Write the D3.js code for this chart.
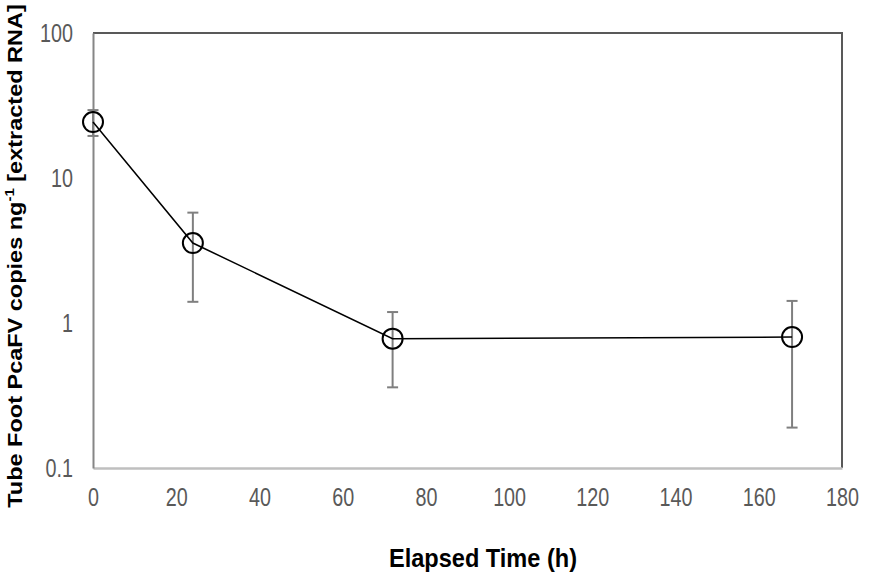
<!DOCTYPE html>
<html>
<head>
<meta charset="utf-8">
<script src="https://cdn.jsdelivr.net/npm/d3@7"></script>
<style>
  body { margin: 0; background: #fff; }
  .tick-label { font-family: "Liberation Sans", Arial, sans-serif; font-size: 25px; fill: #595959; }
</style>
</head>
<body>
<div id="chart"></div>
<script>
// data
var hours  = [0, 24, 72, 168];
var copies = [24.3, 3.56, 0.78, 0.80];
var err_hi = [29.4, 5.77, 1.19, 1.42];
var err_lo = [19.5, 1.40, 0.36, 0.19];

var x_ticks = [0, 20, 40, 60, 80, 100, 120, 140, 160, 180];
var y_ticks = [0.1, 1, 10, 100];

var chart_width  = 886;
var chart_height = 575;
var plot_left = 93, plot_right = 842, plot_top = 33, plot_bottom = 468;
var squeeze = 0.79; // reference text looks horizontally squashed

var svg = d3.select('#chart')
	.append('svg')
	.attr('width', chart_width)
	.attr('height', chart_height);

// scales
var x_scale = d3.scaleLinear()
	.domain([0, 180])
	.range([plot_left, plot_right]);

var y_scale = d3.scaleLog()
	.domain([0.1, 100])
	.range([plot_bottom, plot_top]);

// frame: top and right darker, left and bottom lighter
svg.append('line')
	.attr('x1', plot_left).attr('x2', plot_right + 1)
	.attr('y1', plot_top).attr('y2', plot_top)
	.attr('stroke', '#595959').attr('stroke-width', 2);
svg.append('line')
	.attr('x1', plot_right).attr('x2', plot_right)
	.attr('y1', plot_top).attr('y2', plot_bottom)
	.attr('stroke', '#595959').attr('stroke-width', 2);

// axes (no tick marks, just labels)
var x_axis = d3.axisBottom(x_scale)
	.tickValues(x_ticks)
	.tickSize(0)
	.tickPadding(20)
	.tickFormat(d3.format('d'));

var gx = svg.append('g')
	.attr('transform', 'translate(0,' + plot_bottom + ')')
	.call(x_axis);
gx.select('.domain').attr('stroke', '#bfbfbf').attr('stroke-width', 2.5);
gx.selectAll('text')
	.attr('class', 'tick-label')
	.attr('font-size', null).attr('font-family', null).attr('fill', null)
	.attr('transform', 'scale(' + squeeze + ',1)');

var y_axis = d3.axisLeft(y_scale)
	.tickValues(y_ticks)
	.tickSize(0)
	.tickPadding(20)
	.tickFormat(function(d){ return d < 1 ? '0.1' : String(d); });

var gy = svg.append('g')
	.attr('transform', 'translate(' + plot_left + ',0)')
	.call(y_axis);
gy.select('.domain').attr('stroke', '#868686').attr('stroke-width', 2);
gy.selectAll('text')
	.attr('class', 'tick-label')
	.attr('font-size', null).attr('font-family', null).attr('fill', null)
	.attr('x', -20 / squeeze)
	.attr('transform', 'scale(' + squeeze + ',1)');

// error bars
var eb = svg.append('g')
	.attr('stroke', '#7f7f7f')
	.attr('stroke-width', 2);

hours.forEach(function(h, i){
	var x = x_scale(h);
	eb.append('line')
		.attr('x1', x).attr('x2', x)
		.attr('y1', y_scale(err_hi[i])).attr('y2', y_scale(err_lo[i]));
	[err_hi[i], err_lo[i]].forEach(function(v){
		eb.append('line')
			.attr('x1', x - 5.5).attr('x2', x + 5.5)
			.attr('y1', y_scale(v)).attr('y2', y_scale(v));
	});
});

// line
var line = d3.line()
	.x(function(d, i){ return x_scale(hours[i]); })
	.y(function(d){ return y_scale(d); });

svg.append('path')
	.datum(copies)
	.attr('d', line)
	.attr('fill', 'none')
	.attr('stroke', '#000')
	.attr('stroke-width', 1.5);

// markers
svg.selectAll('circle.pt')
	.data(copies)
	.enter()
	.append('circle')
	.attr('class', 'pt')
	.attr('cx', function(d, i){ return x_scale(hours[i]); })
	.attr('cy', function(d){ return y_scale(d); })
	.attr('r', 10)
	.attr('fill', 'none')
	.attr('stroke', '#000')
	.attr('stroke-width', 2);

// axis titles
svg.append('text')
	.attr('x', 483)
	.attr('y', 567)
	.attr('text-anchor', 'middle')
	.attr('font-family', '"Liberation Sans", Arial, sans-serif')
	.attr('font-weight', 'bold')
	.attr('font-size', 25)
	.attr('textLength', 188)
	.attr('lengthAdjust', 'spacingAndGlyphs')
	.attr('fill', '#000')
	.text('Elapsed Time (h)');

var yt = svg.append('text')
	.attr('text-anchor', 'middle')
	.attr('font-family', '"Liberation Sans", Arial, sans-serif')
	.attr('font-weight', 'bold')
	.attr('font-size', 23.5)
	.attr('fill', '#000')
	.attr('transform', 'translate(22,256) rotate(-90) scale(1,0.84)');
yt.append('tspan').text('Tube Foot PcaFV copies ng');
yt.append('tspan').attr('dy', -9).attr('font-size', 15).text('-1');
yt.append('tspan').attr('dy', 9).text(' [extracted RNA]');
</script>
</body>
</html>
